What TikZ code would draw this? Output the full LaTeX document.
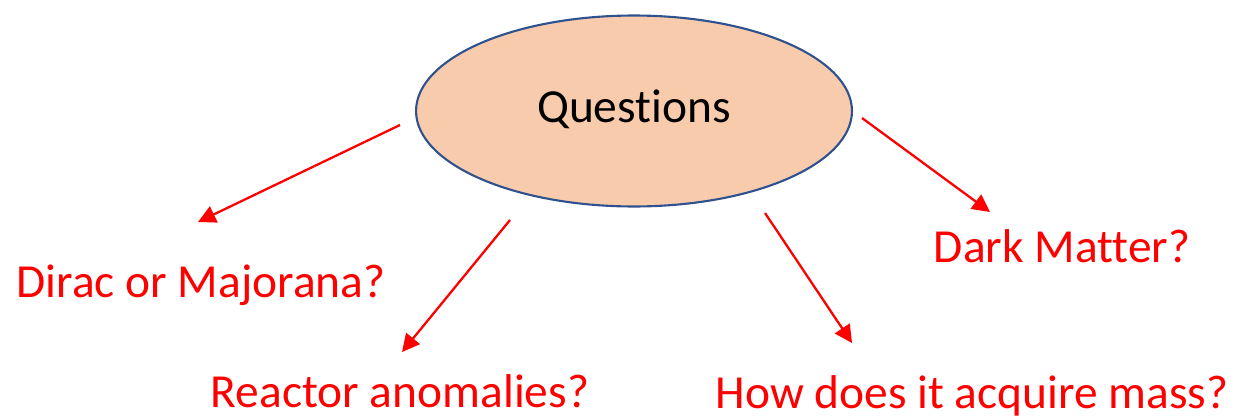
\documentclass[tikz,border=0pt]{standalone}
\usepackage{fontspec}
\setmainfont[Ligatures=NoCommon]{Carlito}
\usetikzlibrary{arrows.meta,shapes.geometric}
\begin{document}
\begin{tikzpicture}[x=0.02cm,y=-0.02cm]
			\definecolor{peche}{RGB}{248,203,173}
			\definecolor{bordbleu}{RGB}{47,82,143}
			\definecolor{rouge}{RGB}{255,0,0}
			\tikzset{fleche/.style={rouge, line width=1.3pt, -{Triangle[length=10pt,width=10pt]}},
				question/.style={text=rouge, font=\fontsize{27}{32}\selectfont, anchor=base, inner sep=0pt}}
			\useasboundingbox (0,0) rectangle (1239,419);
			\node[ellipse, fill=peche, draw=bordbleu, line width=1.2pt, minimum width=8.72cm, minimum height=3.82cm, inner sep=0pt] (questions) at (634,111) {};
			\node[font=\fontsize{27}{32}\selectfont, anchor=base, inner sep=0pt] (titre) at (634,122) {Questions};
			\node[question] (dirac) at (201,297) {Dirac or Majorana?};
			\node[question] (reacteur) at (400,407) {Reactor anomalies?};
			\node[question] (masse) at (972,408) {How does it acquire mass?};
			\node[question] (sombre) at (1062,262) {Dark Matter?};
			% departs et arrivees des fleches
			\coordinate (d1) at (400,125); \coordinate (a1) at (198,222);
			\coordinate (d2) at (510,220); \coordinate (a2) at (402,352);
			\coordinate (d3) at (765,213); \coordinate (a3) at (852,343);
			\coordinate (d4) at (862,118); \coordinate (a4) at (990,212);
			\draw[fleche] (d1) -- (a1);
			\draw[fleche] (d2) -- (a2);
			\draw[fleche] (d3) -- (a3);
			\draw[fleche] (d4) -- (a4);
		\end{tikzpicture}
\end{document}
